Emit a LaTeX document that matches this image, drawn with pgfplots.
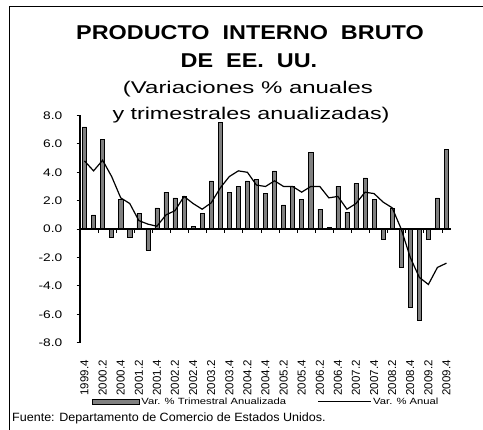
\documentclass[border=0pt]{standalone}
\usepackage{fontspec}
\setmainfont{Liberation Sans}
\usepackage{pgfplots}
\pgfplotsset{compat=1.18}
\definecolor{barg}{RGB}{128,128,128}

\begin{document}
\begin{tikzpicture}
\useasboundingbox (0pt,0pt) rectangle (483pt,430pt);
% frame of the chart area (right and bottom sides fall outside the picture)
\draw[line width=1.5pt] (9.5pt,-5pt) -- (9.5pt,423.5pt) -- (490pt,423.5pt);

% titles
\node[anchor=base,inner sep=0pt] at (250pt,390.7pt)
  {\fontsize{20}{20}\selectfont\bfseries\scalebox{1.17}[1]{PRODUCTO\ \ INTERNO\ \ BRUTO}};
\node[anchor=base,inner sep=0pt] at (249pt,362.7pt)
  {\fontsize{20}{20}\selectfont\bfseries\scalebox{1.17}[1]{DE\ \ EE.\ \ UU.}};
\node[anchor=base,inner sep=0pt] at (248pt,336.7pt)
  {\fontsize{17}{17}\selectfont\scalebox{1.41}[1]{(Variaciones \% anuales}};
\node[anchor=base,inner sep=0pt] at (251pt,310pt)
  {\fontsize{17}{17}\selectfont\scalebox{1.37}[1]{y trimestrales anualizadas)}};

\begin{axis}[
  at={(80pt,87.3pt)}, anchor=south west,
  scale only axis, width=371pt, height=227.2pt,
  xmin=-0.5, xmax=40.5, ymin=-8, ymax=8,
  axis lines=left, axis line style={-},
  x axis line style={draw=none},
  y axis line style={line width=1.2pt},
  tick align=outside, major tick length=3.5pt,
  ytick={-8,-6,...,8},
  ytick style={line width=0.8pt,black},
  /pgf/number format/assume math mode=true,
  yticklabel={\scalebox{1.25}[1]{\pgfmathprintnumber[fixed,fixed zerofill,precision=1]{\tick}}},
  yticklabel style={font=\fontsize{11}{11}\selectfont, anchor=east, inner sep=0pt, xshift=-14pt},
  xtick={0,2,...,40},
  xticklabels={1999.4,2000.2,2000.4,2001.2,2001.4,2002.2,2002.4,2003.2,2003.4,2004.2,2004.4,
    2005.2,2005.4,2006.2,2006.4,2007.2,2007.4,2008.2,2008.4,2009.2,2009.4},
  xtick style={draw=none},
  xticklabel style={font=\fontsize{11.5}{11.5}\selectfont, yshift=-14pt, rotate=90, anchor=east, inner sep=0pt},
  clip=false,
  legend style={at={(axis description cs:0.0315,-0.261)}, anchor=west, draw=none, fill=none,
    inner sep=0pt, font=\fontsize{9}{9}\selectfont, nodes={inner sep=1.5pt},
    /tikz/every even column/.append style={column sep=30pt}},
  legend columns=2, legend cell align=left,
]
\addlegendimage{legend image code/.code={\draw[fill=barg,draw=black,line width=1pt] (0pt,-2.5pt) rectangle (47pt,2.5pt);}}
\addlegendentry{\scalebox{1.25}[1]{Var. \% Trimestral Anualizada}}
\addlegendimage{legend image code/.code={\draw[black,line width=1pt] (0pt,0pt) -- (53pt,0pt);}}
\addlegendentry{\scalebox{1.25}[1]{Var. \% Anual}}
\addplot[ybar, bar width=0.45, fill=barg, draw=black, line width=0.5pt, forget plot]
  coordinates {
  (0,7.2) (1,1.0) (2,6.3) (3,-0.6) (4,2.1) (5,-0.6) (6,1.1) (7,-1.5) (8,1.5) (9,2.6)
  (10,2.2) (11,2.3) (12,0.2) (13,1.1) (14,3.4) (15,7.5) (16,2.6) (17,3.0) (18,3.4) (19,3.5)
  (20,2.5) (21,4.1) (22,1.7) (23,3.0) (24,2.1) (25,5.4) (26,1.4) (27,0.1) (28,3.0) (29,1.2)
  (30,3.2) (31,3.6) (32,2.1) (33,-0.7) (34,1.5) (35,-2.7) (36,-5.5) (37,-6.4) (38,-0.7) (39,2.2)
  (40,5.6)};
\addplot[black, line width=1.2pt, mark=none, forget plot]
  coordinates {
  (0,4.8) (1,4.1) (2,4.85) (3,3.7) (4,2.2) (5,1.8) (6,0.6) (7,0.35) (8,0.2) (9,1.0)
  (10,1.3) (11,2.3) (12,1.8) (13,1.4) (14,1.85) (15,2.9) (16,3.7) (17,4.1) (18,4.0) (19,3.1)
  (20,3.0) (21,3.4) (22,3.0) (23,3.0) (24,2.6) (25,3.0) (26,3.0) (27,2.2) (28,2.3) (29,1.4)
  (30,1.8) (31,2.6) (32,2.5) (33,1.9) (34,1.5) (35,0.0) (36,-2.0) (37,-3.4) (38,-3.9) (39,-2.7)
  (40,-2.4)};
% category axis at zero with tick marks between every second category
\draw[line width=1.2pt] (axis cs:-0.5,0) -- (axis cs:40.5,0);
\pgfplotsinvokeforeach{1.5,3.5,...,39.5}{\draw[line width=0.8pt] (axis cs:#1,0) -- ++(0pt,-3.5pt);}
\end{axis}

\node[anchor=base west,inner sep=0pt] at (12pt,8pt)
  {\fontsize{12}{12}\selectfont\scalebox{1.045}[1]{Fuente: Departamento de Comercio de Estados Unidos.}};
\end{tikzpicture}
\end{document}
